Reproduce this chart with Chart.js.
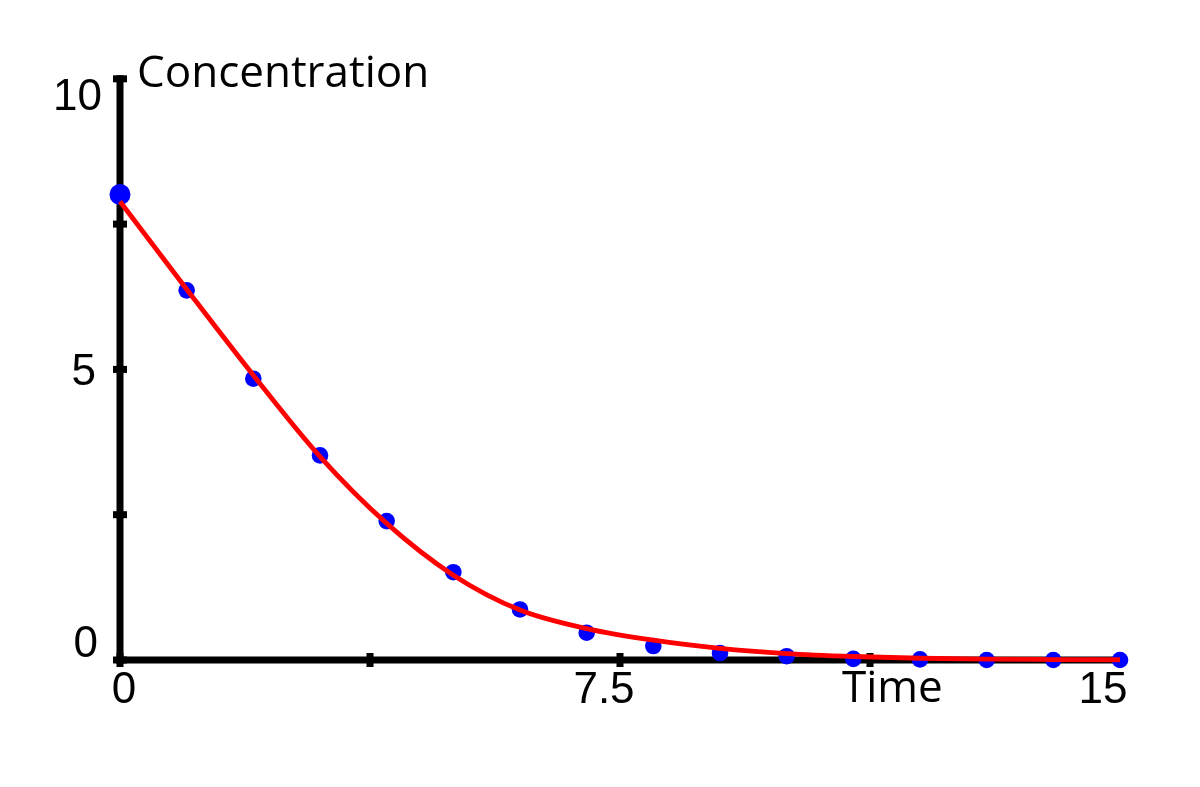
<!DOCTYPE html>
<html>
<head>
<meta charset="utf-8">
<title>Concentration over time</title>
<script src="https://cdn.jsdelivr.net/npm/chart.js@4/dist/chart.umd.min.js"></script>
<style>
  html, body { margin: 0; padding: 0; background: #fff; }
  #chart { display: block; }
</style>
</head>
<body>
<canvas id="chart" width="1200" height="787"></canvas>
<script>
// measured samples (blue dots)
const times = [0, 1, 2, 3, 4, 5, 6, 7, 8, 9, 10, 11, 12, 13, 14, 15];
const measured = [8.01, 6.36, 4.84, 3.52, 2.39, 1.51, 0.87, 0.47, 0.24, 0.12, 0.065, 0.02, 0.01, 0, 0, 0];
// fitted curve (red line), read at the same times
const fitted = [7.89, 6.38, 4.9, 3.5, 2.35, 1.46, 0.86, 0.54, 0.34, 0.2, 0.11, 0.06, 0.03, 0.015, 0.008, 0.004];

const xTicks = [0, 3.75, 7.5, 11.25, 15];
const yTicks = [0, 2.5, 5, 7.5, 10];
const xTickLabels = ["0", "7.5", "15"];
const yTickLabels = ["0", "5", "10"];
const xTitle = "Time";
const yTitle = "Concentration";

const numFont = "44px 'Liberation Sans', Arial, sans-serif";
const titleFont = "44px 'Open Sans', 'Noto Sans', sans-serif";

// axes, ticks and labels drawn by hand so they sit like the original
const axesPlugin = {
  id: "axes",
  beforeDatasetsDraw(chart) {
    const ctx = chart.ctx;
    const xs = chart.scales.x, ys = chart.scales.y;
    const x0 = xs.getPixelForValue(0);
    const y0 = ys.getPixelForValue(0);
    const yTop = ys.getPixelForValue(10);
    const xEnd = xs.getPixelForValue(15);

    ctx.save();
    ctx.fillStyle = "#000";
    // axis lines
    ctx.fillRect(x0 - 3.5, yTop - 3.5, 7, y0 - yTop + 7);
    ctx.fillRect(x0 - 3.5, y0 - 3.5, xEnd - x0 + 3.5, 7);
    // tick marks
    yTicks.forEach(v => {
      const p = ys.getPixelForValue(v);
      ctx.fillRect(x0 - 7, p - 3.5, 14, 7);
    });
    xTicks.forEach(v => {
      const p = xs.getPixelForValue(v);
      ctx.fillRect(p - 3.5, y0 - 7, 7, 14);
    });

    // tick labels
    ctx.font = numFont;
    ctx.textBaseline = "alphabetic";
    ctx.textAlign = "right";
    const yLab = { "0": [x0 - 22, y0 - 3], "5": [x0 - 24, ys.getPixelForValue(5) + 16], "10": [x0 - 18, yTop + 31] };
    yTickLabels.forEach(t => {
      const [px, py] = yLab[t];
      ctx.fillText(t, px, py);
    });
    ctx.textAlign = "center";
    const xLab = { "0": [x0 + 4, y0 + 43], "7.5": [xs.getPixelForValue(7.5) - 16, y0 + 43], "15": [xEnd - 17, y0 + 43] };
    xTickLabels.forEach(t => {
      const [px, py] = xLab[t];
      ctx.fillText(t, px, py);
    });

    // axis titles
    ctx.font = titleFont;
    ctx.textAlign = "left";
    ctx.fillText(xTitle, xs.getPixelForValue(10.83), y0 + 42);
    ctx.fillText(yTitle, x0 + 17, yTop + 8);
    ctx.restore();
  }
};

const pointSizes = times.map((t, i) => (i === 0 ? 10.5 : 8.3));

new Chart(document.getElementById("chart"), {
  type: "scatter",
  data: {
    datasets: [
      {
        type: "line",
        label: "Fit",
        data: times.map((t, i) => ({ x: t, y: fitted[i] })),
        borderColor: "#ff0000",
        borderWidth: 4.8,
        pointRadius: 0,
        fill: false,
        cubicInterpolationMode: "monotone",
        clip: false,
        order: 1
      },
      {
        label: "Measured",
        data: times.map((t, i) => ({ x: t, y: measured[i] })),
        backgroundColor: "#0000ff",
        borderWidth: 0,
        pointRadius: pointSizes,
        clip: false,
        order: 2
      }
    ]
  },
  options: {
    responsive: false,
    animation: false,
    devicePixelRatio: 1,
    layout: { padding: { left: 120, right: 80, top: 78.8, bottom: 127 } },
    scales: {
      x: { type: "linear", min: 0, max: 15, display: false },
      y: { type: "linear", min: 0, max: 10, display: false }
    },
    plugins: {
      legend: { display: false },
      tooltip: { enabled: false }
    }
  },
  plugins: [axesPlugin]
});
</script>
</body>
</html>
